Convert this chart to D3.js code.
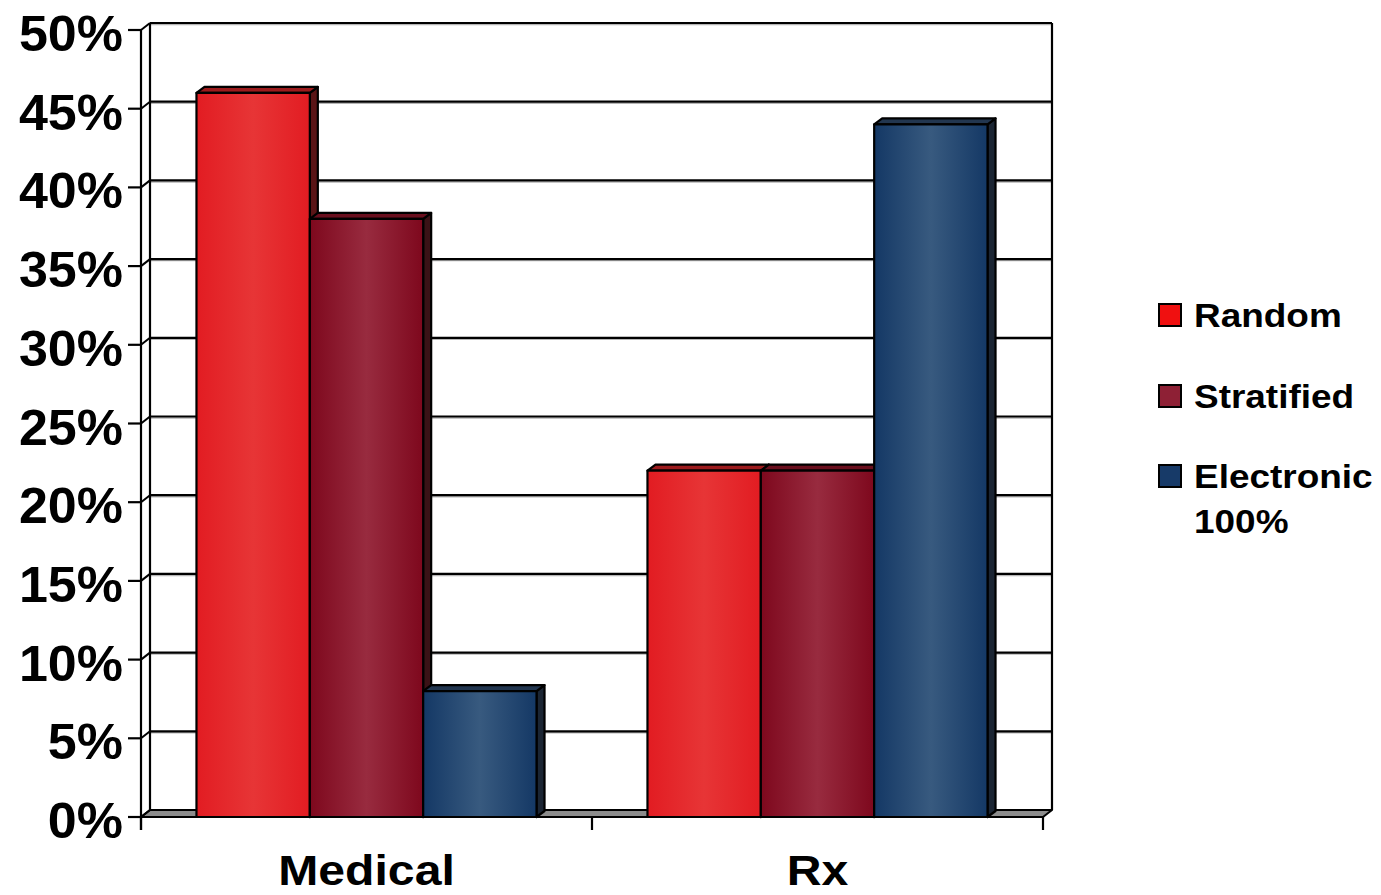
<!DOCTYPE html>
<html>
<head>
<meta charset="utf-8">
<script src="https://cdn.jsdelivr.net/npm/d3@7"></script>
<style>
  html, body { margin: 0; padding: 0; background: #fff; }
  svg { display: block; font-family: "Liberation Sans", Arial, Helvetica, sans-serif; font-weight: bold; }
</style>
</head>
<body>
<svg id="chart" width="1381" height="895"></svg>
<script>
// Categories and series
const categories = ["Medical", "Rx"];
const seriesNames = ["Random", "Stratified", "Electronic 100%"];
const randomValues = [0.46, 0.22];
const stratifiedValues = [0.38, 0.22];
const electronicValues = [0.08, 0.44];
const yTickValues = [0, 0.05, 0.10, 0.15, 0.20, 0.25, 0.30, 0.35, 0.40, 0.45, 0.50];

const series = [
  { name: seriesNames[0], values: randomValues },
  { name: seriesNames[1], values: stratifiedValues },
  { name: seriesNames[2], values: electronicValues }
];

// Face colours per series: front gradient edge/centre, top face, side face
const palette = {
  "Random":          { edge: "#e21c22", mid: "#e73536", top: "#9c1b1d", side: "#5a1416", legend: "#f01010" },
  "Stratified":      { edge: "#7e081d", mid: "#982b3f", top: "#6a0f1e", side: "#3a1216", legend: "#8e2035" },
  "Electronic 100%": { edge: "#143865", mid: "#385a7f", top: "#22364f", side: "#1b2533", legend: "#173a68" }
};

const svg = d3.select("#chart");
const defs = svg.append("defs");

// Front plane of the plot and the depth offset of the 3D box
const plot = { left: 141, right: 1043, top: 30, bottom: 817 };
const wallDepth = { dx: 9, dy: -7 };
const barDepth = { dx: 8, dy: -6 };

const y = d3.scaleLinear().domain([0, 0.5]).range([plot.bottom, plot.top]);
const x0 = d3.scaleBand().domain(categories).range([plot.left, plot.right])
  .paddingInner(0.246).paddingOuter(0.123);
const x1 = d3.scaleBand().domain(seriesNames).range([0, x0.bandwidth()]);

// Horizontal shading for bar fronts
seriesNames.forEach((name, i) => {
  const c = palette[name];
  const g = defs.append("linearGradient").attr("id", "grad" + i)
    .attr("x1", "0%").attr("x2", "100%").attr("y1", "0%").attr("y2", "0%");
  g.append("stop").attr("offset", "0%").attr("stop-color", c.edge);
  g.append("stop").attr("offset", "50%").attr("stop-color", c.mid);
  g.append("stop").attr("offset", "100%").attr("stop-color", c.edge);
});

const lineColor = "#000";

// Floor
const fx0 = plot.left, fx1 = plot.right, fy = y(0);
svg.append("path")
  .attr("d", `M${fx0},${fy} L${fx1},${fy} L${fx1 + wallDepth.dx},${fy + wallDepth.dy} L${fx0 + wallDepth.dx},${fy + wallDepth.dy} Z`)
  .attr("fill", "#8c8c8c").attr("stroke", lineColor).attr("stroke-width", 2).attr("stroke-linejoin", "round");

// Back wall gridlines and their continuation on the left side wall
const grid = svg.append("g");
yTickValues.forEach(v => {
  const yf = y(v), yb = y(v) + wallDepth.dy;
  if (v > 0) {
    grid.append("line")
      .attr("x1", plot.left + wallDepth.dx).attr("x2", plot.right + wallDepth.dx)
      .attr("y1", yb + 1.5).attr("y2", yb + 1.5)
      .attr("stroke", "#b5b5b5").attr("stroke-width", 1.5);
    grid.append("line")
      .attr("x1", plot.left + wallDepth.dx).attr("x2", plot.right + wallDepth.dx)
      .attr("y1", yb).attr("y2", yb)
      .attr("stroke", lineColor).attr("stroke-width", 2.2);
  }
  grid.append("line")
    .attr("x1", plot.left).attr("y1", yf)
    .attr("x2", plot.left + wallDepth.dx).attr("y2", yb)
    .attr("stroke", lineColor).attr("stroke-width", 2);
});
// Wall edges
grid.append("line")
  .attr("x1", plot.left + wallDepth.dx).attr("x2", plot.left + wallDepth.dx)
  .attr("y1", y(0.5) + wallDepth.dy).attr("y2", y(0) + wallDepth.dy)
  .attr("stroke", lineColor).attr("stroke-width", 2.2);
grid.append("line")
  .attr("x1", plot.right + wallDepth.dx).attr("x2", plot.right + wallDepth.dx)
  .attr("y1", y(0.5) + wallDepth.dy).attr("y2", y(0) + wallDepth.dy)
  .attr("stroke", lineColor).attr("stroke-width", 2.2);

// Bars: side, top and front faces, drawn left to right
const bars = svg.append("g");
categories.forEach((cat, ci) => {
  series.forEach((s, si) => {
    const v = s.values[ci];
    const c = palette[s.name];
    const xl = x0(cat) + x1(s.name);
    const xr = xl + x1.bandwidth();
    const yt = y(v), yb = y(0);
    const dx = barDepth.dx, dy = barDepth.dy;
    const g = bars.append("g")
      .attr("stroke", lineColor).attr("stroke-width", 2.2).attr("stroke-linejoin", "round");
    g.append("path")
      .attr("d", `M${xr},${yb} L${xr},${yt} L${xr + dx},${yt + dy} L${xr + dx},${yb + dy} Z`)
      .attr("fill", c.side);
    g.append("path")
      .attr("d", `M${xl},${yt} L${xl + dx},${yt + dy} L${xr + dx},${yt + dy} L${xr},${yt} Z`)
      .attr("fill", c.top);
    g.append("rect")
      .attr("x", xl).attr("y", yt).attr("width", xr - xl).attr("height", yb - yt)
      .attr("fill", `url(#grad${si})`);
  });
});

// Front axes
const axes = svg.append("g").attr("stroke", lineColor).attr("stroke-width", 2.2);
axes.append("line").attr("x1", plot.left).attr("x2", plot.left)
  .attr("y1", y(0.5)).attr("y2", y(0) + 13);
axes.append("line").attr("x1", plot.left).attr("x2", plot.right)
  .attr("y1", y(0)).attr("y2", y(0));
yTickValues.forEach(v => {
  axes.append("line").attr("x1", plot.left - 13).attr("x2", plot.left)
    .attr("y1", y(v)).attr("y2", y(v));
});
// Category boundary ticks
const boundaries = [plot.left].concat(categories.map(c => x0(c) + x0.bandwidth() + x0.step() * x0.paddingInner() / 2));
boundaries[boundaries.length - 1] = plot.right;
boundaries.forEach(bx => {
  axes.append("line").attr("x1", bx).attr("x2", bx)
    .attr("y1", y(0)).attr("y2", y(0) + 13);
});

// Text helper: slightly widened bold type
function label(parent, x, yPos, str, size, anchor, sx) {
  return parent.append("text")
    .attr("transform", `translate(${x},${yPos}) scale(${sx},1)`)
    .attr("text-anchor", anchor)
    .attr("font-size", size)
    .attr("fill", "#000")
    .text(str);
}

const fmt = d3.format(".0%");
const tickLabels = svg.append("g");
yTickValues.forEach(v => {
  label(tickLabels, 123, y(v) + 21, fmt(v), 50, "end", 1.04);
});

const catLabels = svg.append("g");
categories.forEach(cat => {
  label(catLabels, x0(cat) + x0.bandwidth() / 2, 885, cat, 43, "middle", 1.12);
});

// Legend
const legend = svg.append("g");
const legendTop = [304, 385, 465];
series.forEach((s, i) => {
  const ly = legendTop[i];
  legend.append("rect")
    .attr("x", 1159).attr("y", ly).attr("width", 22).attr("height", 22)
    .attr("fill", palette[s.name].legend).attr("stroke", "#000").attr("stroke-width", 2);
  const parts = s.name === "Electronic 100%" ? ["Electronic", "100%"] : [s.name];
  parts.forEach((p, j) => {
    label(legend, 1194, ly + 23 + j * 45, p, 33, "start", 1.12);
  });
});
</script>
</body>
</html>
